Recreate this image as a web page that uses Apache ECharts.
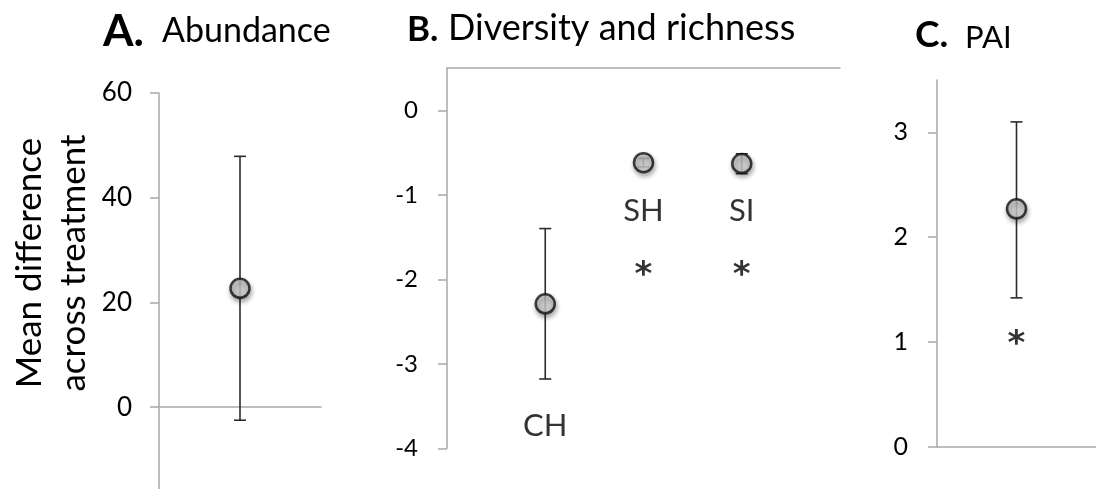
<!DOCTYPE html>
<html>
<head>
<meta charset="utf-8">
<script src="https://cdn.jsdelivr.net/npm/echarts@6/dist/echarts.min.js"></script>
<style>
html,body{margin:0;padding:0;background:#fff;}
#chart{width:1096px;height:489px;}
</style>
</head>
<body>
<div id="chart"></div>
<script>
// ---- Data ----
// Panel A: Abundance
const catsA = ['Abundance'];
const meanA = [22.7];
const lowA = [-2.5];
const highA = [47.9];
const sigA = [false];
const ticksA = [0, 20, 40, 60];

// Panel B: Diversity and richness
const catsB = ['CH', 'SH', 'SI'];
const meanB = [-2.29, -0.62, -0.63];
const lowB = [-3.18, -0.67, -0.75];
const highB = [-1.40, -0.57, -0.515];
const sigB = [false, true, true];
const ticksB = [-4, -3, -2, -1, 0];

// Panel C: PAI
const catsC = ['PAI'];
const meanC = [2.27];
const lowC = [1.42];
const highC = [3.10];
const sigC = [true];
const ticksC = [0, 1, 2, 3];

// Annotation text positions (data units)
const labelYB = [-3.74, -1.19, -1.19];
const starYB = [null, -1.96, -1.96];
const starYC = [0.97];

const FONT = 'Lato';
const STAR_FONT = 'DejaVu Sans';
const AXIS_COLOR = '#a9a9a9';
const BAR_COLOR = '#2b2b2b';

const chart = echarts.init(document.getElementById('chart'), null, {renderer: 'canvas'});

function errSeries(idx, mean, low, high) {
  return {
    type: 'custom', xAxisIndex: idx, yAxisIndex: idx, z: 2,
    data: mean.map((m, i) => [i + 1, low[i], high[i]]),
    renderItem: function (params, api) {
      const x = api.value(0);
      const pLo = api.coord([x, api.value(1)]);
      const pHi = api.coord([x, api.value(2)]);
      const hw = 6;
      const st = {stroke: BAR_COLOR, lineWidth: 1.6};
      return {type: 'group', children: [
        {type: 'line', shape: {x1: pLo[0], y1: pLo[1], x2: pHi[0], y2: pHi[1]}, style: st},
        {type: 'line', shape: {x1: pLo[0] - hw, y1: pLo[1], x2: pLo[0] + hw, y2: pLo[1]}, style: st},
        {type: 'line', shape: {x1: pHi[0] - hw, y1: pHi[1], x2: pHi[0] + hw, y2: pHi[1]}, style: st}
      ]};
    }
  };
}
function pointSeries(idx, mean) {
  return {
    type: 'scatter', xAxisIndex: idx, yAxisIndex: idx, z: 5,
    symbol: 'circle', symbolSize: 19,
    data: mean.map((m, i) => [i + 1, m]),
    itemStyle: {color: '#cdcdcd', borderColor: '#111', borderWidth: 2.5,
      shadowBlur: 5, shadowColor: 'rgba(0,0,0,0.4)', shadowOffsetX: 1, shadowOffsetY: 3},
    silent: true
  };
}
function textSeries(idx, ys, texts, fontSize, family, weight) {
  const data = [];
  ys.forEach((y, i) => { if (y !== null && texts[i]) data.push({value: [i + 1, y], label: {formatter: texts[i]}}); });
  return {
    type: 'scatter', xAxisIndex: idx, yAxisIndex: idx, z: 6,
    symbolSize: 0, data: data, silent: true,
    label: {show: true, position: 'inside', color: '#000', fontFamily: family || FONT,
      fontWeight: weight || 'normal', fontSize: fontSize}
  };
}
function yAx(idx, min, max, ticks, fontSize, margin) {
  return {
    type: 'value', gridIndex: idx, min: min, max: max,
    splitLine: {show: false},
    axisLine: {show: true, onZero: false, lineStyle: {color: AXIS_COLOR, width: 1.5}},
    axisTick: {show: true, length: 9, inside: false, customValues: ticks, lineStyle: {color: AXIS_COLOR, width: 1.5}},
    axisLabel: {customValues: ticks, color: '#000', fontFamily: FONT, fontSize: fontSize, margin: margin}
  };
}
function xAx(idx, max, position, onZero) {
  return {
    type: 'value', gridIndex: idx, min: 0, max: max, position: position,
    splitLine: {show: false},
    axisLine: {show: true, onZero: onZero, lineStyle: {color: AXIS_COLOR, width: 1.5}},
    axisTick: {show: false}, axisLabel: {show: false}
  };
}

const option = {
  backgroundColor: '#fff',
  animation: false,
  grid: [
    {left: 159, top: 93, width: 162, height: 395.8},
    {left: 447, top: 68, width: 393, height: 380.3},
    {left: 937, top: 80, width: 164, height: 366.6}
  ],
  xAxis: [
    xAx(0, 2, 'bottom', true),
    xAx(1, 4, 'top', false),
    xAx(2, 2, 'bottom', false)
  ],
  yAxis: [
    yAx(0, -15.6, 60, ticksA, 26, 27),
    yAx(1, -4, 0.5, ticksB, 24, 29),
    yAx(2, 0, 3.5, ticksC, 25, 29)
  ],
  series: [
    errSeries(0, meanA, lowA, highA), pointSeries(0, meanA),
    errSeries(1, meanB, lowB, highB), pointSeries(1, meanB),
    errSeries(2, meanC, lowC, highC), pointSeries(2, meanC),
    textSeries(1, labelYB, catsB, 31),
    textSeries(1, starYB, sigB.map(s => s ? '*' : ''), 34, STAR_FONT, 'bold'),
    textSeries(2, starYC, sigC.map(s => s ? '*' : ''), 34, STAR_FONT, 'bold')
  ],
  graphic: [
    {type: 'text', left: 103, top: 10, style: {text: 'A.', fontFamily: FONT, fontWeight: 'bold', fontSize: 44, fill: '#000'}},
    {type: 'text', left: 162, top: 14, style: {text: 'Abundance', fontFamily: FONT, fontSize: 34, fill: '#000'}},
    {type: 'text', left: 407, top: 12, style: {text: 'B.', fontFamily: FONT, fontWeight: 'bold', fontSize: 35, fill: '#000'}},
    {type: 'text', left: 448, top: 10, style: {text: 'Diversity and richness', fontFamily: FONT, fontSize: 36, fill: '#000'}},
    {type: 'text', left: 915, top: 17, style: {text: 'C.', fontFamily: FONT, fontWeight: 'bold', fontSize: 37, fill: '#000'}},
    {type: 'text', left: 965, top: 22, style: {text: 'PAI', fontFamily: FONT, fontSize: 31, fill: '#000'}},
    {type: 'text', x: 30, y: 263, rotation: Math.PI / 2,
      style: {text: 'Mean difference', fontFamily: FONT, fontSize: 35, fill: '#000', align: 'center', verticalAlign: 'middle'}},
    {type: 'text', x: 74, y: 263, rotation: Math.PI / 2,
      style: {text: 'across treatment', fontFamily: FONT, fontSize: 35, fill: '#000', align: 'center', verticalAlign: 'middle'}}
  ]
};
chart.setOption(option);
</script>
</body>
</html>
